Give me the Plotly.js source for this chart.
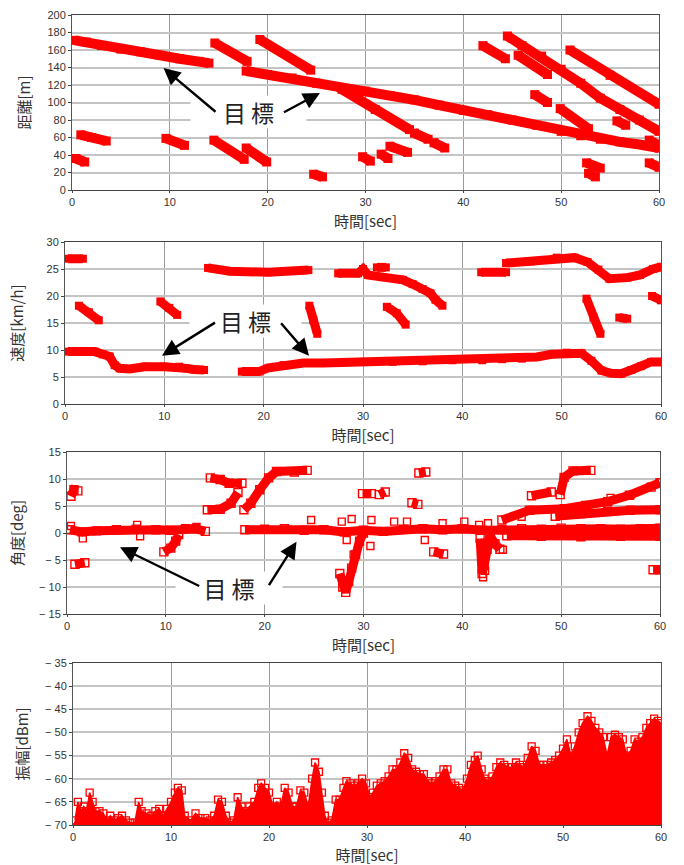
<!DOCTYPE html>
<html><head><meta charset="utf-8">
<script src="https://cdn.plot.ly/plotly-3.0.1.min.js"></script>
<style>html,body{margin:0;padding:0;background:#fff}#chart{width:684px;height:865px}</style>
</head><body><div id="chart"></div><script>
// ---------- Data ----------
// Panel 1: distance [m] vs time [sec]
const distTargetT = [0.3,1.5,3,5,7,9,11,13,14,null,17.8,20,22.5,25,27.5,30,32.5,35,37.5,40,42.5,45,47.5,50,52,54,56,58,60];
const distTargetV = [171,169,165,161,158,154,150,147,145,null,136,132,128,122,117,113,108,103,97,91,86,80,74,67,62,58,55,52,48];
const distOtherT = [0.4,1.3,null,0.9,2,3.5,null,9.6,11.5,null,14.5,17.6,null,17.8,19.9,null,14.6,17.9,null,19.2,24.4,null,24.7,25.6,null,
  27.6,31,34.5,null,35,36.4,null,29.7,30.5,null,31.6,32.3,null,32.5,34.3,null,37,38.1,null,42,44.3,null,
  44.5,46,48,50,52,54,56,58,60,null,45.6,48.6,null,47.3,48.6,null,49.9,52.8,null,50.9,55,60,null,55.7,56.6,null,
  52.6,54,null,52.8,53.5,null,59,60,null,59,60];
const distOtherV = [36,32,null,63,60,56,null,59,51,null,57,35,null,48,32,null,168,147,null,172,137,null,18,15,null,
  115,92,69,null,65,58,null,38,33,null,41,36,null,50,43,null,54,48,null,165,150,null,
  176,165,153,138,122,105,92,80,67,null,154,132,null,109,100,null,93,70,null,160,131,98,null,79,74,null,
  31,25,null,19,15,null,31,26,null,57,51];

// Panel 2: speed [km/h]
const speedTargetT = [0.3,1.5,3,3.8,4.5,5,5.5,6.5,8,10,11.5,12.2,13,14,null,
  17.8,19.5,20.5,22,24,26,28,30,33,36,39,42,44,46,47.5,49,50.5,52,53,54,55,56,57,58,59,60];
const speedTargetV = [9.7,9.7,9.7,9.2,8.8,7.2,6.6,6.5,6.9,6.9,6.9,6.6,6.4,6.3,null,
  6,6,6.7,7.2,7.6,7.6,7.7,7.8,7.8,7.9,8.1,8.1,8.3,8.4,8.7,9.2,9.5,9.4,8,6.2,5.7,5.6,6.3,7,7.8,7.8];
const speedOtherT = [0.3,1.8,null,1.4,2.4,3.4,null,9.6,10.5,11.3,null,14.4,16.6,20.5,24.5,null,24.6,25,25.4,null,
  27.5,29.5,30,30.5,32,34,35,36,36.8,37.3,38,null,31.4,32.3,null,32.4,33.4,34.3,null,41.9,44.4,null,
  44.4,46.9,49.5,51.3,52.6,53.7,54.8,56.6,57.9,59.2,60,null,52.5,53.2,53.9,null,55.8,56.6,null,59.1,60];
const speedOtherV = [26.9,26.9,null,18.2,17,15.5,null,19,17.8,16.5,null,25.2,24.6,24.4,24.8,null,18.2,15.5,13,null,
  24.2,24.2,25,23.9,23.5,23,22.2,21.3,20.5,19.3,18.2,null,25.3,25.3,null,18,16.8,14.7,null,24.4,24.4,null,
  26.1,26.4,27.1,27.1,26.3,24.9,23.2,23.4,23.9,25,25.4,null,19.5,16,13,null,16,15.8,null,20,19.2];

// Panel 3: angle [deg]
const angleTargetT = [0.3,1.5,3,5,7,9,10.5,12,13,14,null,18,20,22,24,26,28,30,32,34,36,38,40,42,44,46,48,50,52,54,56,58,60];
const angleTargetV = [0.6,0.2,0.4,0.6,0.7,0.6,0.5,0.8,0.8,0.3,null,0.6,0.7,0.8,0.5,0.6,0.2,0.5,0.3,0.7,0.8,0.6,0.8,0.5,0.6,0.8,0.7,0.9,0.8,0.8,0.7,0.8,0.9];
const angleOtherT = [0.4,0.7,1.1,null,0.8,1.8,null,9.8,10.5,11,11.3,null,14.2,15.5,16.6,17.3,null,14.5,15.5,16.4,17.7,null,
  17.9,18.6,19.5,20.4,21.2,23,24.3,null,27.6,27.9,28.2,28.5,28.8,29.2,29.6,30,null,29.9,30.8,null,31.6,32.2,null,
  34.9,35.5,null,35.6,36.3,null,37.1,38.1,null,41.8,42,42.2,42.5,42.8,43.3,43.8,null,
  44,46.8,50.3,52.5,54.7,56.9,59.1,60,null,49.4,52,54.7,57,60,null,44.5,48,52,56,60,null,
  47,49,null,49.9,50.3,51.2,53,null,59.3,60];
const angleOtherV = [6.8,8,7.8,null,-5.8,-5.5,null,-3.5,-2.8,-1.5,-0.3,null,4.3,4.4,5.5,7.5,null,10.2,9.9,9.2,9.2,null,
  4.3,5.5,8,10.2,11.4,11.3,11.6,null,-7.5,-10,-11,-9,-6.5,-4,-1.5,0,null,7.3,7.3,null,7.1,7.6,null,
  5.6,5.3,null,11.1,11.3,null,-3.5,-3.9,null,-1,-7.5,-6,-3,-0.5,-2,-3,null,
  2.4,4.2,4.5,5.1,5.8,7,8.5,9.3,null,3.1,3.6,4,4.2,4.3,null,-0.5,-0.6,-0.7,-0.6,-0.6,null,
  6.9,7.6,null,7.1,10.3,11.5,11.6,null,-6.8,-6.8];
const angleScatterT = [0.4,1.6,7.1,7.4,13.1,24.7,27.8,28.8,28.3,30.7,30.8,33.1,34.4,36.2,38,40.2,41.7,42.6,44.1,42.1,42.3,29,46,55,57];
const angleScatterV = [1.3,-1,1.5,-0.6,1.1,2.4,2.1,2.6,-1.3,-2.4,2.4,2.1,2.1,-1.3,1.8,2.1,1.5,1.8,-3.1,-8.2,-7,-4,3,6.5,7];

// Panel 4: amplitude [dBm], upper envelope of the dense cloud
const ampT = [0.2,0.5,0.8,1.1,1.4,1.7,2.0,2.3,2.7,3.1,3.5,3.8,4.2,4.6,5.0,5.4,5.8,6.3,6.7,7.0,7.5,8.0,8.4,8.8,9.2,9.6,10.0,10.4,10.7,11.1,11.4,12.0,12.5,13.0,13.5,14.0,14.4,14.8,15.2,15.6,16.0,16.4,16.8,17.2,17.6,18.0,18.5,18.9,19.2,19.6,20.0,20.4,20.8,21.2,21.6,22.0,22.4,22.8,23.2,23.6,24.0,24.4,24.7,25.1,25.4,25.7,26.0,26.4,26.8,27.2,27.6,27.9,28.3,28.7,29.1,29.5,29.9,30.3,30.6,31.0,31.4,31.8,32.2,32.6,33.0,33.4,33.8,34.2,34.6,35.0,35.4,35.8,36.2,36.6,37.0,37.4,37.8,38.2,38.6,39.0,39.4,39.8,40.2,40.6,41.0,41.3,41.7,42.0,42.4,42.8,43.2,43.6,44.0,44.4,44.8,45.2,45.6,46.0,46.4,46.8,47.2,47.6,48.0,48.4,48.8,49.2,49.6,50.0,50.4,50.8,51.2,51.6,52.0,52.5,52.9,53.3,53.7,54.1,54.5,54.9,55.3,55.7,56.1,56.5,56.9,57.3,57.7,58.1,58.5,58.9,59.3,59.7,60];
const ampPeak = [-69,-65,-67,-66,-67,-63,-65,-67,-67,-67.5,-69,-68,-69,-68.5,-68,-69,-69.5,-69.5,-65,-67,-67.5,-68,-67,-66.5,-68,-66.5,-65,-63,-62,-62.5,-68,-69,-67.5,-68.5,-68.5,-69,-68,-64.5,-65,-68,-69.5,-69,-64,-66,-67,-66,-65,-62,-61,-62,-63,-66,-65,-66,-62,-63,-66,-66,-62.5,-63,-66,-60,-56.5,-58.5,-63,-68,-69.5,-69,-64.5,-64.5,-62,-60.5,-61,-61.5,-61,-60,-61,-64,-63,-61.5,-61,-60.5,-59.5,-58,-58,-56.5,-54.5,-55.5,-58,-58.5,-59,-59,-60.5,-61,-60.5,-59.5,-58,-58,-61,-61.5,-62,-62.5,-60,-57,-56,-55,-58,-60,-60.5,-59.5,-57.5,-56.5,-57,-57.5,-57.5,-56.5,-57,-57.5,-55.5,-53,-54,-57,-57,-57,-56.5,-56,-55,-53.5,-51.5,-55,-53,-50,-48,-46.5,-47.5,-49,-50,-51,-55,-51,-50.5,-51,-51.5,-55,-54,-51.5,-52,-51,-49,-48,-47,-47.5,-48];
const ampFloor = -70;

// tick labels
const distTicks = [0,20,40,60,80,100,120,140,160,180,200];
const speedTicks = [0,5,10,15,20,25,30];
const angleTicks = [-15,-10,-5,0,5,10,15];
const angleTickText = ['− 15','− 10','− 5','0','5','10','15'];
const ampTicks = [-70,-65,-60,-55,-50,-45,-40,-35];
const ampTickText = ['− 70','− 65','− 60','− 55','− 50','− 45','− 40','− 35'];
const timeTicks = [0,10,20,30,40,50,60];

// ---------- Styling ----------
const RED = '#ff0000';
const W = 684, H = 865;
const px = v => v / W, py = v => 1 - v / H;
const tickFont = {family: 'Liberation Sans Narrow, Liberation Sans, sans-serif', size: 11, color: '#333'};
const titleFont = {family: 'Noto Sans CJK JP, sans-serif', size: 15, color: '#333'};

function xAxis(l, r, anchor) {
  return {domain: [px(l), px(r)], range: [0, 60], tickvals: timeTicks, anchor: anchor,
    showgrid: true, gridcolor: '#9a9a9a', gridwidth: 1, zeroline: false,
    showline: true, linecolor: '#444', linewidth: 1, mirror: true,
    ticks: 'outside', ticklen: 2, tickcolor: '#444', tickfont: tickFont,
    title: {text: '時間[sec]', font: titleFont, standoff: 9}, fixedrange: true};
}
function yAxis(t, b, anchor, range, tickvals, ticktext, title, standoff) {
  const a = {domain: [py(b), py(t)], range: range, tickvals: tickvals, anchor: anchor,
    showgrid: true, gridcolor: '#c4c4c4', gridwidth: 2, zeroline: false,
    showline: true, linecolor: '#555', linewidth: 1, mirror: true,
    ticks: 'outside', ticklen: 3, tickcolor: '#444', tickfont: tickFont,
    title: {text: title, font: titleFont, standoff: standoff}, fixedrange: true};
  if (ticktext) a.ticktext = ticktext;
  return a;
}

const bandLine = w => ({color: RED, width: w});
const traces = [
  {x: distTargetT, y: distTargetV, xaxis: 'x', yaxis: 'y', mode: 'lines+markers', line: bandLine(10), marker: {symbol: 'square', size: 9, color: RED}, connectgaps: false},
  {x: distOtherT, y: distOtherV, xaxis: 'x', yaxis: 'y', mode: 'lines+markers', line: bandLine(10), marker: {symbol: 'square', size: 9, color: RED}, connectgaps: false},
  {x: speedTargetT, y: speedTargetV, xaxis: 'x2', yaxis: 'y2', mode: 'lines+markers', line: bandLine(9), marker: {symbol: 'square', size: 8, color: RED}, connectgaps: false},
  {x: speedOtherT, y: speedOtherV, xaxis: 'x2', yaxis: 'y2', mode: 'lines+markers', line: bandLine(9), marker: {symbol: 'square', size: 8, color: RED}, connectgaps: false},
  {x: angleTargetT, y: angleTargetV, xaxis: 'x3', yaxis: 'y3', mode: 'lines+markers', line: bandLine(9), marker: {symbol: 'square-open', size: 8, color: RED, line: {width: 1.4}}, connectgaps: false},
  {x: angleOtherT, y: angleOtherV, xaxis: 'x3', yaxis: 'y3', mode: 'lines+markers', line: bandLine(9), marker: {symbol: 'square-open', size: 8, color: RED, line: {width: 1.4}}, connectgaps: false},
  {x: angleScatterT, y: angleScatterV, xaxis: 'x3', yaxis: 'y3', mode: 'markers', marker: {symbol: 'square-open', size: 7, color: RED, line: {width: 1.4}}},
  {x: [0, 60], y: [ampFloor, ampFloor], xaxis: 'x4', yaxis: 'y4', mode: 'lines', line: {color: RED, width: 0}, hoverinfo: 'skip'},
  {x: ampT, y: ampPeak, xaxis: 'x4', yaxis: 'y4', mode: 'lines+markers', fill: 'tonexty', fillcolor: RED,
    line: {color: RED, width: 1.5}, marker: {symbol: 'square-open', size: 7, color: RED, line: {width: 1.3}}}
];

function label(xp, yp, w) {
  return {xref: 'paper', yref: 'paper', x: px(xp), y: py(yp), text: '目 標', showarrow: false,
    font: {family: 'Noto Sans CJK JP, sans-serif', size: 23, color: '#222'},
    bgcolor: '#ffffff', width: w, height: 30, xanchor: 'center', yanchor: 'middle'};
}
function arrow(hx, hy, tx, ty) {
  return {xref: 'paper', yref: 'paper', x: px(hx), y: py(hy), ax: tx - hx, ay: ty - hy, text: '',
    showarrow: true, arrowhead: 2, arrowsize: 1.4, arrowwidth: 2.4, arrowcolor: '#000'};
}

const layout = {
  width: W, height: H, margin: {l: 0, r: 0, t: 0, b: 0},
  paper_bgcolor: '#fff', plot_bgcolor: '#fff', showlegend: false,
  xaxis: xAxis(72, 659, 'y'),
  yaxis: yAxis(15, 190, 'x', [0, 200], distTicks, null, '距離[m]', 13),
  xaxis2: xAxis(65, 661, 'y2'),
  yaxis2: yAxis(242, 404, 'x2', [0, 30], speedTicks, null, '速度[km/h]', 19),
  xaxis3: xAxis(67, 660, 'y3'),
  yaxis3: yAxis(452, 614, 'x3', [-15, 15], angleTicks, angleTickText, '角度[deg]', 11),
  xaxis4: xAxis(73, 661, 'y4'),
  yaxis4: yAxis(663, 825, 'x4', [-70, -35], ampTicks, ampTickText, '振幅[dBm]', 12),
  annotations: [
    label(248, 112, 113), arrow(163.5, 68, 217, 113), arrow(320, 93, 282.5, 113),
    label(245, 321, 109), arrow(162, 355.7, 216.5, 321.7), arrow(309, 355.7, 279.8, 321.7),
    label(229, 588, 104), arrow(120, 547.3, 200.7, 586.7), arrow(296.5, 541.7, 268, 586.7)
  ]
};

Plotly.newPlot('chart', traces, layout, {staticPlot: true, displayModeBar: false});
</script></body></html>
